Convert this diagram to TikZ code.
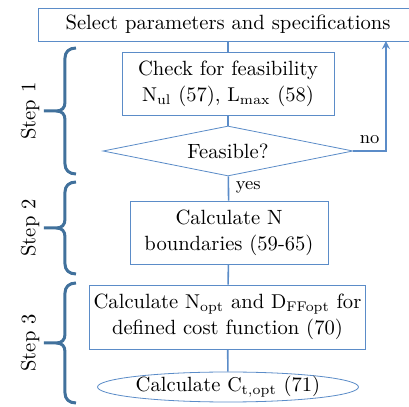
\documentclass[tikz,border=0pt]{standalone}
\usepackage{tikz}
\usetikzlibrary{positioning,shapes.geometric}
\definecolor{boxBlue}{RGB}{91,140,200}
\definecolor{braceBlue}{RGB}{65,113,156}
\tikzset{
  box/.style={rectangle, draw=boxBlue, fill=white, align=center, inner sep=2pt},
  decision/.style={diamond, aspect=5, draw=boxBlue, fill=white, inner sep=0pt},
  terminal/.style={ellipse, draw=boxBlue, fill=white, inner sep=0pt},
  flowLine/.style={draw=boxBlue, thick},
  stepBrace/.style={draw=braceBlue, line width=1.5pt, line join=round},
  stepLabel/.style={rotate=90}
}
% brace from top to bottom, label on its left
\newcommand{\drawStepBrace}[4]{%
  \pgfmathsetmacro{\braceMid}{(#1+#2)/2}
  \draw [stepBrace] (76,#1) .. controls (69,#1) and (65,#1+4) .. (65,#1+10)
    -- (65,\braceMid-9) .. controls (65,\braceMid-3) and (62,\braceMid) .. (56,\braceMid) -- (44,\braceMid)
    (56,\braceMid) .. controls (62,\braceMid) and (65,\braceMid+3) .. (65,\braceMid+9)
    -- (65,#2-10) .. controls (65,#2-4) and (69,#2) .. (76,#2);
  \node [stepLabel] (#3) at (30,\braceMid) {#4};
}

\begin{document}
\begin{tikzpicture}[x=0.5pt, y=-0.5pt, font=\fontsize{10.3pt}{13pt}\selectfont]
      \useasboundingbox (0,0) rectangle (409,407);
      \node [box, minimum width=190pt, minimum height=16.5pt] (select) at (228,24.5)
        {Select parameters and specifications};
      \node [box, minimum width=106pt, minimum height=31.5pt] (check) at (228,83.5)
        {Check for feasibility\\$\mathrm{N_{ul}}$ (57), $\mathrm{L_{max}}$ (58)};
      \node [decision, minimum width=125pt, minimum height=25pt] (feasible) at (228,151)
        {Feasible?};
      \node [box, minimum width=99pt, minimum height=31.5pt] (bounds) at (229,232.5)
        {Calculate N\\boundaries (59-65)};
      \node [box, minimum width=135.5pt, minimum height=32pt] (optimum) at (227.5,317)
        {Calculate $\mathrm{N_{opt}}$ and $\mathrm{D_{FFopt}}$ for\\defined cost function (70)};
      \node [terminal, minimum width=125pt, minimum height=15pt] (cost) at (228,387)
        {Calculate $\mathrm{C_{t,opt}}$ (71)};
      \coordinate (back) at (386,41);

      % flow
      \draw [flowLine] (select) -- (check);
      \draw [flowLine] (check) -- (feasible);
      \draw [flowLine] (feasible) -- node [right=0pt, pos=0.45, font=\small] {yes} (bounds);
      \draw [flowLine] (bounds) -- (optimum);
      \draw [flowLine] (optimum) -- (cost);
      \draw [flowLine, -stealth] (feasible.east) -| node [above=0pt, pos=0.25, font=\small] {no} (back);

      % steps
      \drawStepBrace{48}{174}{step1}{Step 1}
      \drawStepBrace{182}{274}{step2}{Step 2}
      \drawStepBrace{283}{403}{step3}{Step 3}
    \end{tikzpicture}
\end{document}
